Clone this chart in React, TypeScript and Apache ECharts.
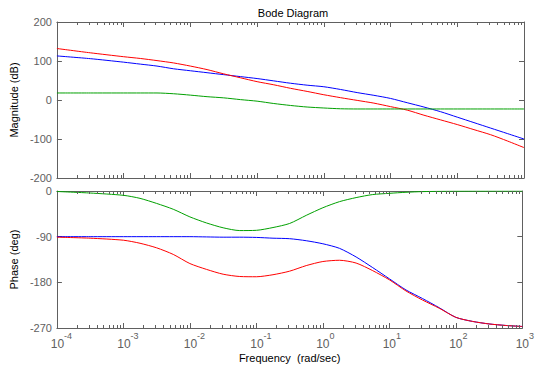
import React, { useEffect, useRef } from "react";
import * as echarts from "echarts";

// log10 of frequency (rad/sec)
const freqExp = [-4, -3.5, -3, -2.75, -2.5, -2.25, -2, -1.75, -1.5, -1.25, -1, -0.75, -0.5, -0.25, 0, 0.25, 0.5, 0.75, 1, 1.25, 1.5, 1.75, 2, 2.25, 2.5, 2.75, 3];

// Magnitude (dB)
const magRed = [132, 121, 111, 106.5, 101, 95, 87, 78, 67, 57, 47, 39, 30, 22, 13.5, 6, -1, -8, -17, -26, -39, -51, -63, -76, -89, -105, -122];
const magBlue = [113, 106, 97, 92, 87, 80, 75, 70, 65, 60, 55, 49, 43, 38, 34, 27, 19, 12, 4, -7, -18, -30, -44, -58, -72, -86, -100];
const magGreen = [18, 18, 18, 18, 18, 16, 12.5, 8.5, 5.5, 1, -3, -9, -14, -18, -20.5, -22.5, -23, -23, -23, -23, -23, -23, -23, -23, -23, -23, -23];

// Phase (deg)
const phaseRed = [-91, -93, -97, -103, -112, -125, -143, -154.5, -164, -168.5, -169, -165, -158, -147, -139, -136.5, -142, -157, -175, -197, -215, -231, -249, -257, -262, -265, -267];
const phaseBlue = [-90, -90, -90, -90, -90, -90, -90, -90.5, -91, -91, -91.5, -93, -94, -98, -104, -113, -130, -151, -173, -195, -212, -230, -249, -257, -262, -265, -267];
const phaseGreen = [-1, -4, -8.5, -14.5, -24.5, -36, -51, -63, -72.5, -78, -77.5, -72, -64, -48, -33, -21, -13, -7, -4.6, -2.5, -1.2, -0.6, -0.3, -0.2, -0.2, -0.2, -0.2];

const decades = [-4, -3, -2, -1, 0, 1, 2];
const minorMultipliers = [2, 3, 4, 5, 6, 7, 8, 9];

const AXIS = "#606060";
const FONT = "'Liberation Sans', Arial, sans-serif";

const pts = (vals: number[]) => freqExp.map((e, i) => [e, vals[i]]);

export default function App() {
  const ref = useRef<HTMLDivElement>(null);
  useEffect(() => {
    if (!ref.current) return;
    const chart = echarts.init(ref.current, undefined, { renderer: "svg" });
    const minorData: number[][] = [];
    decades.forEach((d) => minorMultipliers.forEach((k) => minorData.push([d + Math.log10(k), 0])));

    const minorSeries = (xi: number, yi: number) => ({
      type: "custom",
      xAxisIndex: xi,
      yAxisIndex: yi,
      silent: true,
      clip: false,
      z: 5,
      data: minorData,
      renderItem: (params: any, api: any) => {
        const x = Math.round(api.coord([api.value(0), 0])[0]) + 0.5;
        const cs = params.coordSys;
        const st = { stroke: AXIS, lineWidth: 1 };
        return {
          type: "group",
          children: [
            { type: "line", shape: { x1: x, y1: cs.y + cs.height, x2: x, y2: cs.y + cs.height - 3 }, style: st },
            { type: "line", shape: { x1: x, y1: cs.y, x2: x, y2: cs.y + 3 }, style: st },
          ],
        };
      },
    });

    const xBase = (gi: number, pos: string, labels: boolean) => ({
      type: "value",
      gridIndex: gi,
      position: pos,
      min: -4,
      max: 3,
      interval: 1,
      axisLine: { onZero: false, lineStyle: { color: AXIS, width: 1 } },
      axisTick: { show: true, inside: true, length: 5, lineStyle: { color: AXIS } },
      splitLine: { show: false },
      axisLabel: labels
        ? {
            show: true,
            margin: 3,
            color: AXIS,
            formatter: (v: number) => {
              const n = Math.round(v);
              return n < 0 ? `{bn|10}{sup|${n}}` : `{bp|10}{sup|${n}}`;
            },
            rich: {
              bn: { fontSize: 12, color: AXIS, fontFamily: FONT, padding: [0, 0, 0, 9], verticalAlign: "bottom", lineHeight: 19 },
              bp: { fontSize: 12, color: AXIS, fontFamily: FONT, padding: [0, 0, 0, 5], verticalAlign: "bottom", lineHeight: 19 },
              sup: { fontSize: 9, color: AXIS, fontFamily: FONT, verticalAlign: "top", lineHeight: 10 },
            },
          }
        : { show: false },
    });

    const yBase = (gi: number, pos: string, min: number, max: number, interval: number, name?: string) => ({
      type: "value",
      gridIndex: gi,
      position: pos,
      min,
      max,
      interval,
      name: name || "",
      nameLocation: "middle",
      nameGap: 36,
      nameTextStyle: { color: "#000", fontSize: 11, fontFamily: FONT },
      axisLine: { show: true, onZero: false, lineStyle: { color: AXIS, width: 1 } },
      axisTick: { show: true, inside: true, length: 5, lineStyle: { color: AXIS } },
      splitLine: { show: false },
      axisLabel: name ? { show: true, margin: 5, color: AXIS, fontSize: 11, fontFamily: FONT } : { show: false },
    });

    const line = (name: string, color: string, xi: number, yi: number, vals: number[]) => ({
      type: "line",
      name,
      xAxisIndex: xi,
      yAxisIndex: yi,
      data: pts(vals),
      showSymbol: false,
      smooth: 0.25,
      lineStyle: { color, width: 1 },
      itemStyle: { color },
      z: 3,
    });

    chart.setOption({
      animation: false,
      backgroundColor: "#fff",
      textStyle: { fontFamily: FONT },
      title: {
        text: "Bode Diagram",
        left: 288,
        top: 2,
        textAlign: "center",
        textStyle: { fontSize: 11, fontWeight: "normal", color: "#000", fontFamily: FONT },
      },
      grid: [
        { left: 52, top: 22, width: 472, height: 156 },
        { left: 52, top: 191, width: 472, height: 137 },
      ],
      xAxis: [
        xBase(0, "bottom", false),
        xBase(0, "top", false),
        {
          ...xBase(1, "bottom", true),
          name: "Frequency  (rad/sec)",
          nameLocation: "middle",
          nameGap: 24,
          nameTextStyle: { color: "#000", fontSize: 11, fontFamily: FONT },
        },
        xBase(1, "top", false),
      ],
      yAxis: [
        yBase(0, "left", -200, 200, 100, "Magnitude (dB)"),
        yBase(0, "right", -200, 200, 100),
        yBase(1, "left", -270, 0, 90, "Phase (deg)"),
        yBase(1, "right", -270, 0, 90),
      ],
      series: [
        line("Magnitude 1", "#0000ff", 0, 0, magBlue),
        line("Magnitude 2", "#ff0000", 0, 0, magRed),
        line("Magnitude 3", "#00a000", 0, 0, magGreen),
        line("Phase 1", "#0000ff", 2, 2, phaseBlue),
        line("Phase 2", "#ff0000", 2, 2, phaseRed),
        line("Phase 3", "#00a000", 2, 2, phaseGreen),
        minorSeries(0, 0),
        minorSeries(2, 2),
      ],
    });
    return () => chart.dispose();
  }, []);
  return <div ref={ref} style={{ position: "absolute", left: 0, top: 0, width: 537, height: 368, background: "#fff" }} />;
}
